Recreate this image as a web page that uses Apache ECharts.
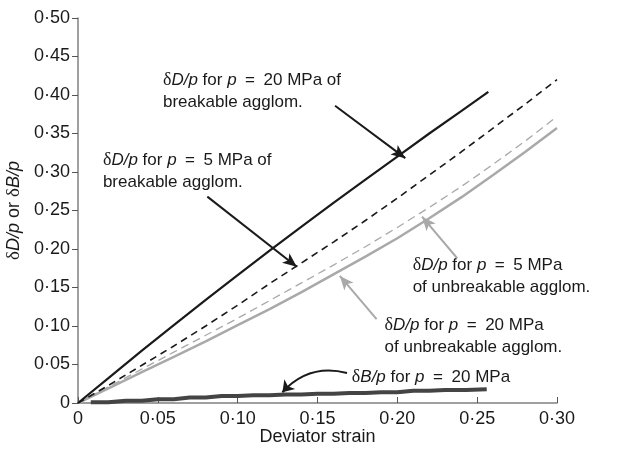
<!DOCTYPE html>
<html>
<head>
<meta charset="utf-8">
<script src="https://cdn.jsdelivr.net/npm/echarts@6.0.0/dist/echarts.min.js"></script>
<style>
  html, body { margin: 0; padding: 0; background: #fff; }
  #chart { width: 621px; height: 450px; }
</style>
</head>
<body>
<div id="chart"></div>
<script>
// Strain values (deviator strain) for each curve
const strainBreak20 = [0, 0.02, 0.04, 0.06, 0.08, 0.10, 0.12, 0.14, 0.16, 0.18, 0.20, 0.22, 0.24, 0.257];
const strainFull = [0, 0.02, 0.04, 0.06, 0.08, 0.10, 0.12, 0.14, 0.16, 0.18, 0.20, 0.22, 0.24, 0.26, 0.28, 0.30];
const strainBulk = [0.008, 0.03, 0.05, 0.07, 0.09, 0.11, 0.13, 0.15, 0.17, 0.19, 0.21, 0.23, 0.256];

// dD/p and dB/p values
const break20 = [0, 0.034, 0.068, 0.101, 0.134, 0.166, 0.198, 0.229, 0.260, 0.290, 0.320, 0.350, 0.379, 0.404];
const break5 = [0, 0.024, 0.049, 0.074, 0.100, 0.127, 0.155, 0.182, 0.209, 0.237, 0.266, 0.296, 0.326, 0.357, 0.388, 0.420];
const unbreak5 = [0, 0.022, 0.044, 0.066, 0.088, 0.110, 0.133, 0.156, 0.179, 0.203, 0.228, 0.254, 0.281, 0.310, 0.340, 0.372];
const unbreak20 = [0, 0.020, 0.040, 0.060, 0.080, 0.101, 0.122, 0.144, 0.167, 0.190, 0.214, 0.240, 0.267, 0.296, 0.326, 0.357];
const bulk20 = [0.001, 0.003, 0.005, 0.007, 0.009, 0.010, 0.011, 0.012, 0.013, 0.014, 0.016, 0.017, 0.018];

const pair = (xs, ys) => xs.map((x, i) => [x, ys[i]]);
const tickLabel = v => (v === 0 ? '0' : v.toFixed(2).replace('.', '\u00b7'));

const FONT = 'Liberation Sans, Arial, sans-serif';
const SERIF = 'Liberation Serif, DejaVu Serif, serif';
const BLACK = '#1a1a1a';
const GREY = '#a9a9a9';

const richOf = size => ({
    n: { fontFamily: FONT, fontSize: size, color: BLACK, lineHeight: 22 },
    i: { fontFamily: FONT, fontSize: size, fontStyle: 'italic', color: BLACK, lineHeight: 22 },
    d: { fontFamily: SERIF, fontSize: size + 1, color: BLACK, lineHeight: 22 }
});
const rich = richOf(17);

const dDp = '{d|\u03b4}{i|D/p}{n| for }{i|p}{n|\u2002=\u2002}';

// annotation texts, anchored (left, top) in data coordinates
const notes = [
    { text: dDp + '{n|20 MPa of}\n{n|breakable agglom.}', at: [0.0532, 0.431] },
    { text: dDp + '{n|5 MPa of}\n{n|breakable agglom.}', at: [0.0156, 0.327] },
    { text: dDp + '{n|5 MPa}\n{n|of unbreakable agglom.}', at: [0.2096, 0.190] },
    { text: dDp + '{n|20 MPa}\n{n|of unbreakable agglom.}', at: [0.192, 0.112] },
    { text: '{d|\u03b4}{i|B/p}{n| for }{i|p}{n|\u2002=\u200220 MPa}', at: [0.1715, 0.0455] }
];

const arrow = (from, to, color) => [
    { coord: from, lineStyle: { color: color, width: 2, type: 'solid' } },
    { coord: to }
];

const chart = echarts.init(document.getElementById('chart'));

chart.setOption({
    animation: false,
    grid: { left: 78, right: 64, top: 18, bottom: 47, outerBoundsMode: 'none' },
    xAxis: {
        type: 'value',
        min: 0, max: 0.30, interval: 0.05,
        name: 'Deviator strain',
        nameLocation: 'middle',
        nameGap: 25,
        nameMoveOverlap: false,
        nameTextStyle: { fontFamily: FONT, fontSize: 18, color: BLACK },
        axisLine: { lineStyle: { color: '#808080', width: 1.5 } },
        axisTick: { inside: true, length: 6, lineStyle: { color: '#555' } },
        axisLabel: { formatter: tickLabel, fontFamily: FONT, fontSize: 18, color: BLACK, margin: 7 },
        splitLine: { show: false }
    },
    yAxis: {
        type: 'value',
        min: 0, max: 0.50, interval: 0.05,
        name: '{d|\u03b4}{i|D/p}{n| or }{d|\u03b4}{i|B/p}',
        nameLocation: 'middle',
        nameGap: 53,
        nameRotate: 90,
        nameTextStyle: { rich: richOf(18) },
        axisLine: { show: true, lineStyle: { color: '#808080', width: 1.5 } },
        axisTick: { show: true, length: 6, lineStyle: { color: '#555' } },
        axisLabel: { formatter: tickLabel, fontFamily: FONT, fontSize: 18, color: BLACK, margin: 8 },
        splitLine: { show: false }
    },
    series: [
        {
            type: 'line', name: 'unbreakable 20 MPa', data: pair(strainFull, unbreak20),
            showSymbol: false, lineStyle: { color: GREY, width: 2.5 }, z: 2
        },
        {
            type: 'line', name: 'unbreakable 5 MPa', data: pair(strainFull, unbreak5),
            showSymbol: false, lineStyle: { color: GREY, width: 1.3, type: [8, 5] }, z: 2
        },
        {
            type: 'line', name: 'breakable 5 MPa', data: pair(strainFull, break5),
            showSymbol: false, lineStyle: { color: BLACK, width: 1.6, type: [7, 5] }, z: 3
        },
        {
            type: 'line', name: 'breakable 20 MPa', data: pair(strainBreak20, break20),
            showSymbol: false, lineStyle: { color: BLACK, width: 2.2 }, z: 3,
            markLine: {
                silent: true, symbol: ['none', 'arrow'], symbolSize: [9, 14],
                label: { show: false },
                emphasis: { disabled: true },
                data: [
                    arrow([0.161, 0.386], [0.205, 0.318], BLACK),
                    arrow([0.081, 0.268], [0.137, 0.177], BLACK),
                    arrow([0.2375, 0.188], [0.2155, 0.242], GREY),
                    arrow([0.187, 0.109], [0.164, 0.165], GREY)
                ]
            }
        },
        {
            type: 'line', name: 'bulk 20 MPa', data: pair(strainBulk, bulk20),
            showSymbol: false, step: 'middle', lineStyle: { color: '#444', width: 4 }, z: 4
        },
        {
            // curved pointer for the dB/p label
            type: 'lines', coordinateSystem: 'cartesian2d', silent: true, z: 5,
            symbol: ['none', 'arrow'], symbolSize: 11,
            lineStyle: { color: BLACK, width: 2, opacity: 1, curveness: -0.3 },
            data: [{ coords: [[0.1685, 0.039], [0.128, 0.014]] }]
        }
    ]
});

// place annotation texts from data coordinates
chart.setOption({
    graphic: notes.map(n => {
        const p = chart.convertToPixel({ gridIndex: 0 }, n.at);
        return {
            type: 'text', left: p[0], top: p[1], silent: true,
            style: { text: n.text, rich: rich, fill: BLACK }
        };
    })
});
</script>
</body>
</html>
